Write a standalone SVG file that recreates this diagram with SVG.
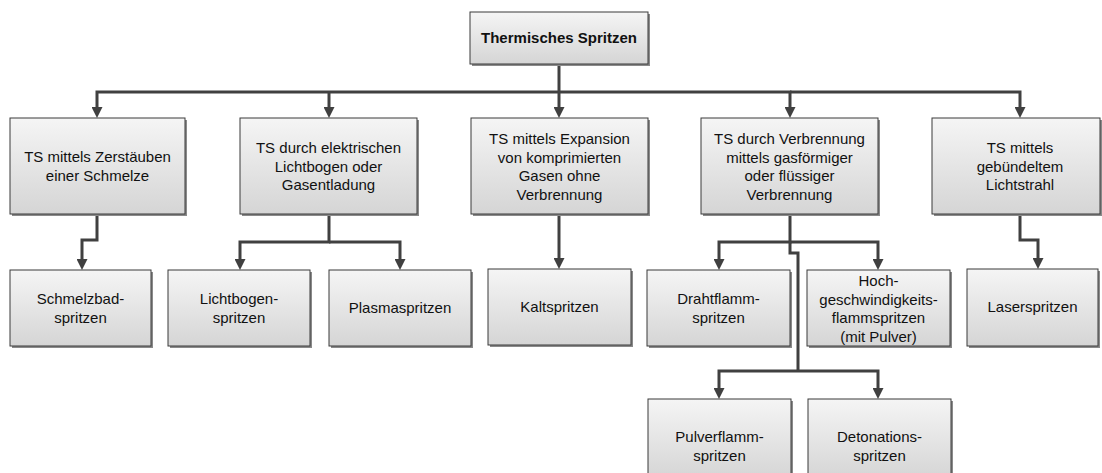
<svg xmlns="http://www.w3.org/2000/svg" width="1102" height="473" viewBox="0 0 1102 473">
<defs>
<linearGradient id="g" x1="0" y1="0" x2="0" y2="1">
<stop offset="0" stop-color="#f5f5f5"/>
<stop offset="1" stop-color="#d5d5d5"/>
</linearGradient>
<marker id="ah" markerUnits="userSpaceOnUse" markerWidth="11" markerHeight="11" viewBox="0 0 11 11" refX="1" refY="5.5" orient="auto">
<path d="M0,0 L11,5.5 L0,11 z" fill="#404040"/>
</marker>
</defs>
<style>
.sh{fill:#8a8a8a;}
.bx{fill:url(#g);stroke:#3a3a3a;stroke-width:1;}
.t{font-family:"Liberation Sans",Arial,sans-serif;font-size:15px;fill:#111111;text-anchor:middle;}
.b{font-weight:bold;}
.c path{fill:none;stroke:#404040;stroke-width:3;stroke-linejoin:miter;}
.c .a{marker-end:url(#ah);}
</style>
<rect width="1102" height="473" fill="#ffffff"/>

<g class="c" id="connectors">
<path d="M559,66 V92"/>
<path d="M559,92 H97 V108" class="a"/>
<path d="M329,92 V108" class="a"/>
<path d="M559,92 V108" class="a"/>
<path d="M559,92 H790 V108" class="a"/>
<path d="M790,92 H1020 V108" class="a"/>
<path d="M97,214 V240 H82 V260" class="a"/>
<path d="M329,214 V242 H240 V260" class="a"/>
<path d="M329,242 H400 V260" class="a"/>
<path d="M559,214 V259" class="a"/>
<path d="M790,214 V242 H719 V260" class="a"/>
<path d="M790,242 H878 V260" class="a"/>
<path d="M790,242 V253 H798 V371"/>
<path d="M798,371 H719 V389" class="a"/>
<path d="M798,371 H878 V389" class="a"/>
<path d="M1020,214 V240 H1038 V259" class="a"/>
</g>

<g id="n0"><rect class="sh" x="472" y="14" width="178" height="52"/><rect class="bx" x="470" y="12" width="178" height="52"/><text class="t b" x="559" y="43">Thermisches Spritzen</text></g>

<g id="n1"><rect class="sh" x="12" y="120" width="175" height="96"/><rect class="bx" x="10" y="118" width="175" height="96"/><text class="t" x="97.5" y="162">TS mittels Zerstäuben</text><text class="t" x="97.5" y="180.5">einer Schmelze</text></g>

<g id="n2"><rect class="sh" x="242" y="120" width="177" height="96"/><rect class="bx" x="240" y="118" width="177" height="96"/><text class="t" x="328.5" y="153">TS durch elektrischen</text><text class="t" x="328.5" y="171.5">Lichtbogen oder</text><text class="t" x="328.5" y="190">Gasentladung</text></g>

<g id="n3"><rect class="sh" x="473" y="120" width="177" height="96"/><rect class="bx" x="471" y="118" width="177" height="96"/><text class="t" x="559.5" y="144">TS mittels Expansion</text><text class="t" x="559.5" y="162.5">von komprimierten</text><text class="t" x="559.5" y="181">Gasen ohne</text><text class="t" x="559.5" y="199.5">Verbrennung</text></g>

<g id="n4"><rect class="sh" x="703" y="120" width="177" height="96"/><rect class="bx" x="701" y="118" width="177" height="96"/><text class="t" x="789.5" y="144">TS durch Verbrennung</text><text class="t" x="789.5" y="162.5">mittels gasförmiger</text><text class="t" x="789.5" y="181">oder flüssiger</text><text class="t" x="789.5" y="199.5">Verbrennung</text></g>

<g id="n5"><rect class="sh" x="934" y="120" width="168" height="96"/><rect class="bx" x="932" y="118" width="168" height="96"/><text class="t" x="1020" y="153">TS mittels</text><text class="t" x="1020" y="171.5">gebündeltem</text><text class="t" x="1020" y="190">Lichtstrahl</text></g>

<g id="m1"><rect class="sh" x="12" y="272" width="141" height="76"/><rect class="bx" x="10" y="270" width="141" height="76"/><text class="t" x="80.5" y="304">Schmelzbad-</text><text class="t" x="80.5" y="322.5">spritzen</text></g>

<g id="m2"><rect class="sh" x="170" y="272" width="142" height="76"/><rect class="bx" x="168" y="270" width="142" height="76"/><text class="t" x="239" y="304">Lichtbogen-</text><text class="t" x="239" y="322.5">spritzen</text></g>

<g id="m3"><rect class="sh" x="331" y="272" width="142" height="76"/><rect class="bx" x="329" y="270" width="142" height="76"/><text class="t" x="400" y="313">Plasmaspritzen</text></g>

<g id="m4"><rect class="sh" x="490" y="271" width="143" height="76"/><rect class="bx" x="488" y="269" width="143" height="76"/><text class="t" x="559.5" y="312">Kaltspritzen</text></g>

<g id="m5"><rect class="sh" x="649" y="272" width="143" height="76"/><rect class="bx" x="647" y="270" width="143" height="76"/><text class="t" x="718.5" y="304">Drahtflamm-</text><text class="t" x="718.5" y="322.5">spritzen</text></g>

<g id="m6"><rect class="sh" x="809" y="272" width="143" height="76"/><rect class="bx" x="807" y="270" width="143" height="76"/><text class="t" x="878.5" y="286">Hoch-</text><text class="t" x="878.5" y="304.5">geschwindigkeits-</text><text class="t" x="878.5" y="323">flammspritzen</text><text class="t" x="878.5" y="341.5">(mit Pulver)</text></g>

<g id="m7"><rect class="sh" x="969" y="271" width="131" height="77"/><rect class="bx" x="967" y="269" width="131" height="77"/><text class="t" x="1032.5" y="312">Laserspritzen</text></g>

<g id="p1"><rect class="sh" x="650" y="401" width="143" height="80"/><rect class="bx" x="648" y="399" width="143" height="80"/><text class="t" x="719.5" y="442">Pulverflamm-</text><text class="t" x="719.5" y="460.5">spritzen</text></g>

<g id="p2"><rect class="sh" x="810" y="401" width="143" height="80"/><rect class="bx" x="808" y="399" width="143" height="80"/><text class="t" x="879.5" y="442">Detonations-</text><text class="t" x="879.5" y="460.5">spritzen</text></g>
</svg>
